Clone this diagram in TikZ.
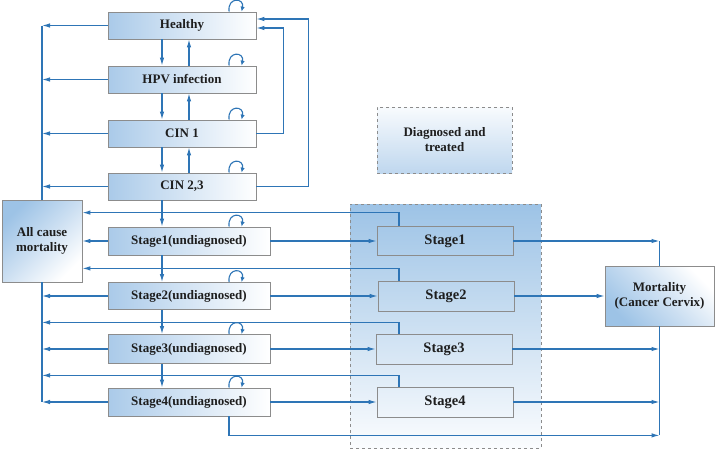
\documentclass[tikz,border=0pt]{standalone}
\usepackage{fontspec}
\setmainfont{Liberation Serif}
\usetikzlibrary{arrows.meta,calc}
\definecolor{lineblue}{HTML}{2E75B6}
\definecolor{boxblue}{HTML}{AACAE9}
\definecolor{boxblued}{HTML}{9DC3E6}
\definecolor{boxborder}{HTML}{8C8C8C}
\definecolor{txt}{HTML}{1E1E1E}
\newcommand\selfloop[1]{%
  \draw[wire,-{Latex[length=5pt,width=4.5pt]}] ([xshift=121.5pt]#1.north west) .. controls +(-2,-15) and +(3,-14) .. ([xshift=134pt]#1.north west);}
\begin{document}
\begin{tikzpicture}[x=1pt,y=-1pt,
  box/.style={draw=boxborder, line width=0.8pt, left color=boxblue, middle color=boxblued, right color=white,
    font=\bfseries\fontsize{13}{15}\selectfont, text=txt, inner sep=0pt},
  dbox/.style={draw=boxborder, line width=0.8pt, font=\bfseries\fontsize{14.5}{16}\selectfont, text=txt, inner sep=0pt},
  wire/.style={draw=lineblue, line width=1.1pt},
  ar/.style={wire, -{Latex[length=8pt,width=4.5pt]}}]
\useasboundingbox (0,0) rectangle (716,450);

% container
\node[draw=boxborder, dashed, line width=0.7pt, top color=boxblued, bottom color=white!95!boxblue,
  minimum width=191pt, minimum height=244pt] (diag) at (445.5,326) {};
\node[draw=boxborder, dashed, line width=0.7pt, top color=white!92!boxblue, bottom color=boxblue!75,
  minimum width=135pt, minimum height=66pt, align=center, font=\bfseries\fontsize{13}{15}\selectfont, text=txt]
  (dt) at (444.5,140) {Diagnosed and\\treated};

% left column
\node[box, minimum width=148pt, minimum height=27pt] (healthy) at (182,25.5) {Healthy};
\node[box, minimum width=148pt, minimum height=27pt] (hpv) at (182,79.5) {HPV infection};
\node[box, minimum width=148pt, minimum height=27pt] (cin1) at (182,133.5) {CIN 1};
\node[box, minimum width=148pt, minimum height=27pt] (cin23) at (182,186.5) {CIN 2,3};
\node[box, minimum width=162pt, minimum height=28pt] (s1u) at (189,241) {Stage1(undiagnosed)};
\node[box, minimum width=162pt, minimum height=27pt] (s2u) at (189,296) {Stage2(undiagnosed)};
\node[box, minimum width=162pt, minimum height=29pt] (s3u) at (189,349) {Stage3(undiagnosed)};
\node[box, minimum width=162pt, minimum height=28pt] (s4u) at (189,402) {Stage4(undiagnosed)};

\node[box, shading=axis, top color=boxblued, bottom color=white, shading angle=45, middle color=boxblue!60,
  minimum width=80pt, minimum height=82pt, align=center] (acm) at (42,241) {All cause\\mortality};

% diagnosed
\node[dbox, minimum width=136pt, minimum height=29pt] (d1) at (445,241) {Stage1};
\node[dbox, minimum width=136pt, minimum height=30pt] (d2) at (446,296) {Stage2};
\node[dbox, minimum width=136pt, minimum height=30pt] (d3) at (444,349) {Stage3};
\node[dbox, minimum width=136pt, minimum height=30pt] (d4) at (445,402) {Stage4};

\node[box, shading=axis, top color=boxblued, bottom color=white, shading angle=135, middle color=boxblue!60,
  minimum width=109pt, minimum height=60pt, align=center] (mort) at (659.5,296) {Mortality\\(Cancer Cervix)};

% vertical arrows between states
\draw[ar] ([xshift=-20pt]healthy.south) -- ([xshift=-20pt]hpv.north);
\draw[ar] ([xshift=7pt]hpv.north) -- ([xshift=7pt]healthy.south);
\draw[ar] ([xshift=-20pt]hpv.south) -- ([xshift=-20pt]cin1.north);
\draw[ar] ([xshift=7pt]cin1.north) -- ([xshift=7pt]hpv.south);
\draw[ar] ([xshift=-20pt]cin1.south) -- ([xshift=-20pt]cin23.north);
\draw[ar] ([xshift=7pt]cin23.north) -- ([xshift=7pt]cin1.south);
\draw[ar] ([xshift=-20pt]cin23.south) -- ([xshift=-20pt]cin23.south |- s1u.north);
\draw[ar] ([xshift=-27pt]s1u.south) -- ([xshift=-27pt]s2u.north);
\draw[ar] ([xshift=-27pt]s2u.south) -- ([xshift=-27pt]s3u.north);
\draw[ar] ([xshift=-27pt]s3u.south) -- ([xshift=-27pt]s4u.north);

% feedback to healthy
\draw[ar] (cin1.east) -- ++(27,0) |- ([yshift=-2.5pt]healthy.east);
\draw[ar] (cin23.east) -- ++(52,0) |- ([yshift=6.5pt]healthy.east);

% self loops
\selfloop{healthy}
\selfloop{hpv}
\selfloop{cin1}
\selfloop{cin23}
\selfloop{s1u}
\selfloop{s2u}
\selfloop{s3u}
\selfloop{s4u}

% left bus to all cause mortality
\draw[wire] (healthy.west -| acm.north) -- (acm.north);
\draw[wire] (acm.south) -- (s4u.west -| acm.south);
\draw[ar] (healthy.west) -- (healthy.west -| acm.north);
\draw[ar] (hpv.west) -- (hpv.west -| acm.north);
\draw[ar] (cin1.west) -- (cin1.west -| acm.north);
\draw[ar] (cin23.west) -- (cin23.west -| acm.north);
\draw[ar] (s1u.west) -- (acm.east);
\draw[ar] (s2u.west) -- (s2u.west -| acm.south);
\draw[ar] (s3u.west) -- (s3u.west -| acm.south);
\draw[ar] (s4u.west) -- (s4u.west -| acm.south);

% undiagnosed -> diagnosed
\draw[ar] (s1u.east) -- (d1.west);
\draw[ar] (s2u.east) -- (d2.west);
\draw[ar] (s3u.east) -- (d3.west);
\draw[ar] (s4u.east) -- (d4.west);

% diagnosed -> all cause mortality
\draw[ar] ([xshift=-46pt]d1.north) |- ($(acm.north east)+(0,13)$);
\draw[ar] ([xshift=-47pt]d2.north) |- ($(acm.south east)+(0,-14)$);
\draw[ar] ([xshift=-45pt]d3.north) |- ($(acm.south)+(0,40)$);
\draw[ar] ([xshift=-46pt]d4.north) |- ($(acm.south)+(0,93)$);

% diagnosed -> cancer mortality
\coordinate (rbot) at ($(mort.south)+(0,109)$);
\draw[wire] (d1.east -| mort.north) -- (mort.north);
\draw[wire] (mort.south) -- (rbot);
\draw[ar] (d1.east) -- (d1.east -| mort.north);
\draw[ar] (d2.east) -- (mort.west);
\draw[ar] (d3.east) -- (d3.east -| mort.south);
\draw[ar] (d4.east) -- (d4.east -| mort.south);
\draw[ar] ([xshift=40pt]s4u.south) |- (rbot);
\end{tikzpicture}
\end{document}
